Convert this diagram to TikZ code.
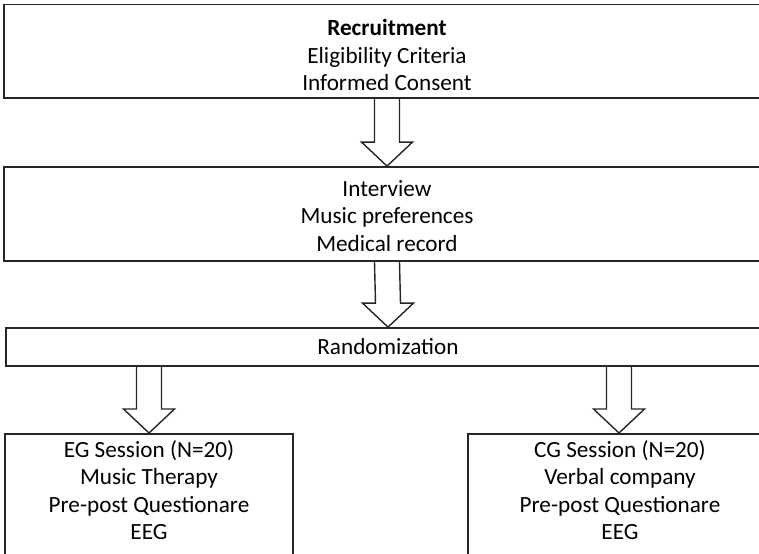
\documentclass[tikz,border=0pt]{standalone}
\usepackage{fontspec}
\setmainfont{Carlito}
\usetikzlibrary{calc}
\def\px{0.025cm}
\tikzset{
	stagebox/.style={draw=black!85, line width=1.3pt, inner sep=0pt, align=center, font=\fontsize{16.5}{19.5}\selectfont},
	stagetext/.style={inner sep=0pt, align=center, font=\fontsize{16.5}{19.5}\selectfont},
	hollowline/.style={draw=black!85, line width=1pt, line join=miter}
}
\def\blockarrow(#1)(#2){\draw[hollowline] ($(#1)+(-12.5,0)$) -- ($(#2)+(-12.5,-24)$) -- ($(#2)+(-25.5,-24)$) -- (#2) -- ($(#2)+(25.5,-24)$) -- ($(#2)+(12.5,-24)$) -- ($(#1)+(12.5,0)$);}

\begin{document}
\begin{tikzpicture}[x=0.025cm, y=-0.025cm]
			%%%%% START %%%%%
			\useasboundingbox (0, 0) rectangle (759, 554);
			\clip (0, 0) rectangle (759, 554);
			
			\node[stagebox, minimum width=766*\px, minimum height=93.5*\px] (recruit) at (387, 51.25) {};
			\node[stagetext] (recruittext) at (387, 55) {\textbf{Recruitment}\\Eligibility Criteria\\Informed Consent};
			\node[stagebox, minimum width=766*\px, minimum height=94*\px] (interview) at (387, 214) {};
			\node[stagetext] (interviewtext) at (387, 216) {Interview\\Music preferences\\Medical record};
			\node[stagebox, minimum width=764*\px, minimum height=38*\px] (rand) at (388, 347) {Randomization};
			
			\node[stagebox, minimum width=288*\px, minimum height=150*\px, anchor=north] (eg) at (149, 433) {};
			\node[stagetext] (egtext) at (149, 490) {EG Session (N=20)\\Music Therapy\\Pre-post Questionare\\EEG};
			
			\node[stagebox, minimum width=302*\px, minimum height=150*\px, anchor=north] (cg) at (619, 433) {};
			\node[stagetext] (cgtext) at (620, 490) {CG Session (N=20)\\Verbal company\\Pre-post Questionare\\EEG};
			
			\blockarrow(recruit.south)(interview.north)
			\blockarrow(interview.south)(rand.north)
			\blockarrow(rand.south -| eg.north)(eg.north)
			\blockarrow(rand.south -| cg.north)(cg.north)
			%%%%% END %%%%%
\end{tikzpicture}
\end{document}
